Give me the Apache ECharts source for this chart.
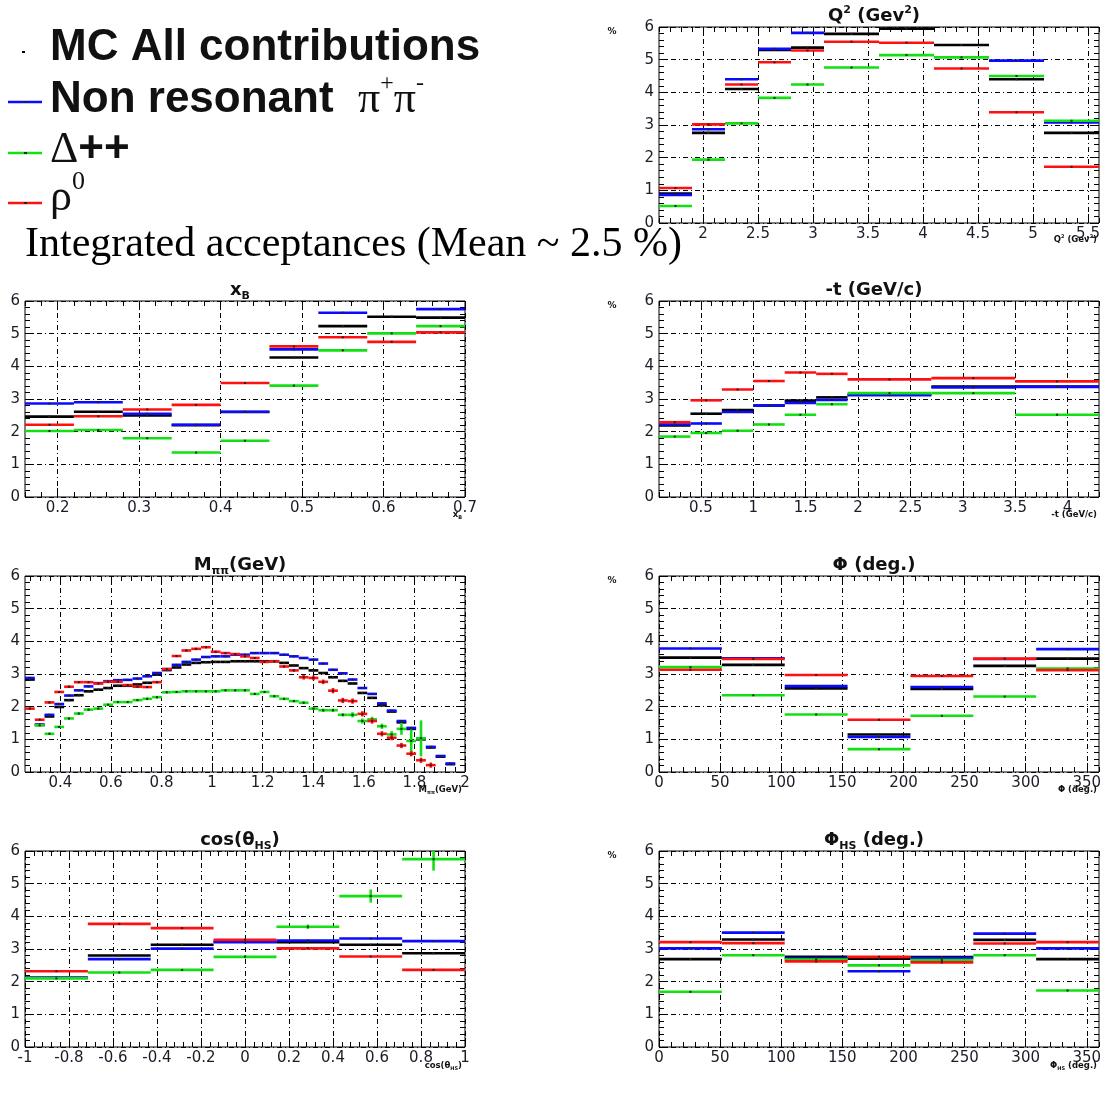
<!DOCTYPE html>
<html>
<head>
<meta charset="utf-8">
<script src="https://cdn.jsdelivr.net/npm/echarts@6/dist/echarts.min.js"></script>
<style>
  html, body { margin: 0; padding: 0; background: #fff; }
  #chart { width: 1113px; height: 1105px; }
</style>
</head>
<body>
<div id="chart"></div>
<script>
// ---------------- acceptance histograms (in %) ----------------

// Q^2 (GeV^2)
const q2Edges   = [1.6, 1.9, 2.2, 2.5, 2.8, 3.1, 3.6, 4.1, 4.6, 5.1, 5.6];
const q2Ticks   = [2, 2.5, 3, 3.5, 4, 4.5, 5, 5.5];
const q2All     = [0.90, 2.76, 4.10, 5.30, 5.37, 5.79, 5.95, 5.45, 4.40, 2.76];
const q2NonRes  = [0.86, 2.87, 4.40, 5.33, 5.82, 6.30, 6.40, 6.20, 4.97, 3.08];
const q2Delta   = [0.52, 1.94, 3.05, 3.83, 4.24, 4.76, 5.14, 5.07, 4.50, 3.13];
const q2Rho     = [1.07, 3.02, 4.24, 4.92, 5.28, 5.55, 5.52, 4.73, 3.39, 1.72];

// x_B
const xbEdges   = [0.16, 0.22, 0.28, 0.34, 0.40, 0.46, 0.52, 0.58, 0.64, 0.70];
const xbTicks   = [0.2, 0.3, 0.4, 0.5, 0.6, 0.7];
const xbAll     = [2.46, 2.61, 2.50, 2.20, 2.60, 4.27, 5.23, 5.52, 5.49];
const xbNonRes  = [2.86, 2.90, 2.55, 2.21, 2.61, 4.52, 5.64, 6.20, 5.75];
const xbDelta   = [2.02, 2.05, 1.80, 1.36, 1.72, 3.41, 4.49, 5.01, 5.23];
const xbRho     = [2.21, 2.47, 2.68, 2.82, 3.49, 4.61, 4.89, 4.75, 5.04];

// -t (GeV/c)
const tEdges    = [0.1, 0.4, 0.7, 1.0, 1.3, 1.6, 1.9, 2.7, 3.5, 4.3];
const tTicks    = [0.5, 1, 1.5, 2, 2.5, 3, 3.5, 4];
const tAll      = [2.19, 2.55, 2.66, 2.80, 2.95, 3.05, 3.13, 3.38, 3.38];
const tNonRes   = [2.22, 2.25, 2.60, 2.80, 2.88, 2.97, 3.12, 3.35, 3.37];
const tDelta    = [1.85, 1.96, 2.03, 2.22, 2.52, 2.84, 3.18, 3.18, 2.52];
const tRho      = [2.29, 2.96, 3.29, 3.55, 3.81, 3.77, 3.60, 3.64, 3.54];

// M_pipi (GeV): 45 equal bins between 0.26 and 2.0
const mLo = 0.26, mHi = 2.0, mBins = 45;
const mTicks    = [0.4, 0.6, 0.8, 1, 1.2, 1.4, 1.6, 1.8, 2];
const mAll      = [2.83, 1.44, 1.70, 1.99, 2.20, 2.35, 2.47, 2.52, 2.57, 2.64, 2.64, 2.68, 2.73, 2.98, 3.12,
                   3.20, 3.29, 3.34, 3.36, 3.37, 3.37, 3.39, 3.39, 3.39, 3.39, 3.39, 3.34, 3.26, 3.18, 3.11,
                   3.03, 2.90, 2.79, 2.71, 2.42, 2.27, 2.04, 1.85, 1.52, 1.32, 1.00, 0.75, 0.47, 0.24, null];
const mNonRes   = [2.88, 1.45, 1.75, 2.08, 2.34, 2.50, 2.62, 2.72, 2.78, 2.81, 2.82, 2.86, 2.93, 3.03, 3.15,
                   3.28, 3.37, 3.44, 3.52, 3.54, 3.54, 3.59, 3.59, 3.64, 3.64, 3.64, 3.59, 3.54, 3.49, 3.44,
                   3.32, 3.13, 3.02, 2.83, 2.57, 2.39, 2.10, 1.88, 1.56, 1.35, 1.03, 0.77, 0.49, 0.26, null];
const mDelta    = [null, 1.43, 1.17, 1.38, 1.64, 1.79, 1.91, 1.94, 2.06, 2.14, 2.14, 2.20, 2.24, 2.29, 2.44,
                   2.45, 2.47, 2.47, 2.47, 2.47, 2.50, 2.50, 2.50, 2.39, 2.45, 2.32, 2.24, 2.17, 2.12, 1.94,
                   1.89, 1.89, 1.75, 1.75, 1.56, 1.61, 1.40, 1.15, 1.32, 0.95, 1.03, null, null, null, null];
const mDeltaErr = [0, 0.03, 0.03, 0.03, 0.03, 0.03, 0.03, 0.03, 0.03, 0.03, 0.03, 0.03, 0.03, 0.03, 0.03,
                   0.03, 0.03, 0.03, 0.03, 0.03, 0.03, 0.03, 0.03, 0.03, 0.03, 0.03, 0.03, 0.03, 0.04, 0.04,
                   0.05, 0.05, 0.05, 0.08, 0.08, 0.08, 0.08, 0.10, 0.18, 0.35, 0.55, 0, 0, 0, 0];
const mRho      = [1.94, 1.60, 2.13, 2.45, 2.61, 2.75, 2.75, 2.71, 2.76, 2.76, 2.66, 2.61, 2.60, 2.75, 3.15,
                   3.55, 3.72, 3.77, 3.82, 3.68, 3.64, 3.61, 3.54, 3.49, 3.37, 3.39, 3.23, 3.11, 2.90, 2.88,
                   2.76, 2.49, 2.19, 2.17, 1.78, 1.56, 1.17, 1.05, 0.81, 0.56, 0.36, 0.21, null, null, null];
const mRhoErr   = [0.03, 0.03, 0.03, 0.03, 0.03, 0.03, 0.03, 0.03, 0.03, 0.03, 0.03, 0.03, 0.03, 0.03, 0.03,
                   0.03, 0.03, 0.03, 0.03, 0.03, 0.03, 0.03, 0.03, 0.03, 0.03, 0.03, 0.03, 0.03, 0.07, 0.07,
                   0.07, 0.08, 0.08, 0.08, 0.08, 0.08, 0.08, 0.08, 0.08, 0.08, 0.08, 0.08, 0, 0, 0];

// Phi (deg.): 7 equal bins over 0..360
const phiEdges  = [0, 51.43, 102.86, 154.29, 205.71, 257.14, 308.57, 360];
const phiTicks  = [0, 50, 100, 150, 200, 250, 300, 350];
const phiAll    = [3.50, 3.28, 2.56, 1.15, 2.54, 3.25, 3.47];
const phiNonRes = [3.78, 3.48, 2.63, 1.07, 2.60, 3.46, 3.76];
const phiDelta  = [3.21, 2.35, 1.76, 0.70, 1.72, 2.31, 3.17];
const phiRho    = [3.13, 3.46, 2.97, 1.60, 2.94, 3.47, 3.12];

// cos(theta_HS): 7 equal bins over -1..1
const cosEdges  = [-1, -0.7143, -0.4286, -0.1429, 0.1429, 0.4286, 0.7143, 1];
const cosTicks  = [-1, -0.8, -0.6, -0.4, -0.2, 0, 0.2, 0.4, 0.6, 0.8, 1];
const cosAll    = [2.12, 2.80, 3.13, 3.22, 3.21, 3.13, 2.87];
const cosNonRes = [2.12, 2.69, 3.01, 3.21, 3.26, 3.32, 3.24];
const cosDelta  = [2.10, 2.28, 2.36, 2.76, 3.68, 4.62, 5.75];
const cosDeltaErr = [0.02, 0.02, 0.02, 0.04, 0.07, 0.20, 0.35];
const cosRho    = [2.32, 3.77, 3.64, 3.28, 3.02, 2.77, 2.36];

// Phi_HS (deg.)
const phsEdges  = phiEdges;
const phsTicks  = phiTicks;
const phsAll    = [2.69, 3.29, 2.76, 2.70, 2.75, 3.28, 2.69];
const phsNonRes = [3.02, 3.50, 2.71, 2.32, 2.72, 3.47, 3.02];
const phsDelta  = [1.69, 2.81, 2.68, 2.50, 2.66, 2.81, 1.73];
const phsRho    = [3.21, 3.18, 2.62, 2.76, 2.59, 3.17, 3.21];

const yTicksMax = 6;

// ---------------- helpers ----------------
const SANS  = "'Liberation Sans', Arial, Helvetica, sans-serif";
const AXIS_FONT = "'DejaVu Sans', 'Liberation Sans', sans-serif";
const SERIF = "'Liberation Serif', 'Times New Roman', serif";
const COL = { all: '#000000', nonres: '#0a0aff', delta: '#12e012', rho: '#ff1010' };

function round6(v) { return Math.round(v * 1e6) / 1e6; }
function minorTicks(lo, hi, step) {
  const out = [];
  const start = Math.ceil(lo / step - 1e-9);
  for (let k = start; k * step <= hi + 1e-9; k++) out.push(round6(k * step));
  return out;
}
function uniformEdges(lo, hi, n) {
  const e = [];
  for (let i = 0; i <= n; i++) e.push(round6(lo + (hi - lo) * i / n));
  return e;
}
const mEdges = uniformEdges(mLo, mHi, mBins);

const W = 440, H = 196;
const panels = [
  { left: 659, top: 27,  xmin: 1.6,  xmax: 5.6, ticks: q2Ticks,  minor: 0.1,  edges: q2Edges,
    sets: [q2All, q2NonRes, q2Delta, q2Rho], errs: {} },
  { left: 25,  top: 301, xmin: 0.16, xmax: 0.7, ticks: xbTicks,  minor: 0.02, edges: xbEdges,
    sets: [xbAll, xbNonRes, xbDelta, xbRho], errs: {} },
  { left: 659, top: 301, xmin: 0.1,  xmax: 4.3, ticks: tTicks,   minor: 0.1,  edges: tEdges,
    sets: [tAll, tNonRes, tDelta, tRho], errs: {} },
  { left: 25,  top: 576, xmin: mLo,  xmax: mHi, ticks: mTicks,   minor: 0.04, edges: mEdges,
    sets: [mAll, mNonRes, mDelta, mRho], errs: { 2: mDeltaErr, 3: mRhoErr } },
  { left: 659, top: 576, xmin: 0,    xmax: 360, ticks: phiTicks, minor: 10,   edges: phiEdges,
    sets: [phiAll, phiNonRes, phiDelta, phiRho], errs: {} },
  { left: 25,  top: 851, xmin: -1,   xmax: 1,   ticks: cosTicks, minor: 0.04, edges: cosEdges,
    sets: [cosAll, cosNonRes, cosDelta, cosRho], errs: { 2: cosDeltaErr } },
  { left: 659, top: 851, xmin: 0,    xmax: 360, ticks: phsTicks, minor: 10,   edges: phsEdges,
    sets: [phsAll, phsNonRes, phsDelta, phsRho], errs: {} }
];
const setColors = [COL.all, COL.nonres, COL.delta, COL.rho];

const gridDash = [5, 3, 1, 3];
const labelStyle = { fontFamily: AXIS_FONT, fontSize: 15, color: '#1c1c28' };

const grids = [], xAxes = [], yAxes = [], series = [];

panels.forEach((p, gi) => {
  grids.push({ left: p.left, top: p.top, width: W, height: H, show: true,
               borderColor: '#000', borderWidth: 1, backgroundColor: 'transparent' });
  const minors = minorTicks(p.xmin, p.xmax, p.minor);
  const base = { type: 'value', gridIndex: gi, min: p.xmin, max: p.xmax,
                 axisLine: { show: false, onZero: false }, minorTick: { show: false } };
  // bottom: major ticks, labels and grid lines
  xAxes.push(Object.assign({}, base, {
    position: 'bottom',
    axisTick: { show: true, inside: true, length: 9, customValues: p.ticks, lineStyle: { color: '#000' } },
    axisLabel: Object.assign({ show: true, customValues: p.ticks, margin: 4,
                               formatter: v => String(round6(v)) }, labelStyle),
    splitLine: { show: true, lineStyle: { color: '#000', width: 1, type: gridDash } }
  }));
  // bottom: minor ticks
  xAxes.push(Object.assign({}, base, {
    position: 'bottom',
    axisTick: { show: true, inside: true, length: 5, customValues: minors, lineStyle: { color: '#000' } },
    axisLabel: { show: false }, splitLine: { show: false }
  }));
  // top: mirrored ticks
  xAxes.push(Object.assign({}, base, {
    position: 'top',
    axisTick: { show: true, inside: true, length: 9, customValues: p.ticks, lineStyle: { color: '#000' } },
    axisLabel: { show: false }, splitLine: { show: false }
  }));
  xAxes.push(Object.assign({}, base, {
    position: 'top',
    axisTick: { show: true, inside: true, length: 5, customValues: minors, lineStyle: { color: '#000' } },
    axisLabel: { show: false }, splitLine: { show: false }
  }));

  const ybase = { type: 'value', gridIndex: gi, min: 0, max: yTicksMax, interval: 1,
                  axisLine: { show: false, onZero: false },
                  axisTick: { show: true, inside: true, length: 9, lineStyle: { color: '#000' } },
                  minorTick: { show: true, splitNumber: 5, length: 5, lineStyle: { color: '#000' } } };
  yAxes.push(Object.assign({}, ybase, {
    position: 'left',
    axisLabel: Object.assign({ show: true, margin: 5 }, labelStyle),
    splitLine: { show: true, lineStyle: { color: '#000', width: 1, type: gridDash } }
  }));
  yAxes.push(Object.assign({}, ybase, {
    position: 'right', axisLabel: { show: false }, splitLine: { show: false }
  }));

  p.sets.forEach((vals, si) => {
    const errs = p.errs[si];
    const data = [];
    vals.forEach((v, i) => {
      if (v == null) return;
      data.push([p.edges[i], p.edges[i + 1], v, errs ? errs[i] : 0]);
    });
    const color = setColors[si];
    series.push({
      type: 'custom', xAxisIndex: gi * 4, yAxisIndex: gi * 2, clip: true, z: 3 + si,
      silent: true, animation: false,
      encode: { x: [0, 1], y: 2 },
      data,
      renderItem(params, api) {
        const lo = api.value(0), hi = api.value(1), v = api.value(2), e = api.value(3);
        const a = api.coord([lo, v]), b = api.coord([hi, v]);
        const cx = (a[0] + b[0]) / 2;
        const kids = [{
          type: 'line', shape: { x1: a[0], y1: a[1], x2: b[0], y2: b[1] },
          style: { stroke: color, lineWidth: 2.6 }
        }];
        if (e > 0) {
          const t = api.coord([(lo + hi) / 2, v + e]), d = api.coord([(lo + hi) / 2, v - e]);
          kids.push({ type: 'line', shape: { x1: cx, y1: t[1], x2: cx, y2: d[1] },
                      style: { stroke: color, lineWidth: 2.6 } });
        }
        kids.push({ type: 'rect', shape: { x: cx - 1, y: a[1] - 1, width: 2, height: 2 },
                    style: { fill: '#222' } });
        return { type: 'group', children: kids };
      }
    });
  });
});

// ---------------- texts ----------------
function rtext(x, y, text, size, opt) {
  opt = opt || {};
  const weight = opt.weight || 'bold';
  const fam = opt.family || SANS;
  const fill = opt.color || '#111';
  const align = opt.align || 'center';
  const lh = Math.round(size * 1.3);
  const sm = Math.round(size * (opt.smallRatio || 0.62));
  const gsize = opt.gsize || size;
  return {
    type: 'text', x, y, z: 50, silent: true,
    style: {
      text, fill, fontSize: size, fontFamily: fam, fontWeight: weight,
      font: weight + ' ' + size + 'px ' + fam,
      align, textAlign: align, verticalAlign: 'middle', textVerticalAlign: 'middle',
      rich: {
        n:   { fontSize: size, fontFamily: fam, fontWeight: weight, lineHeight: lh, verticalAlign: 'middle', fill },
        g:   { fontSize: gsize, fontFamily: SERIF, fontWeight: opt.gweight || weight, lineHeight: lh, verticalAlign: 'middle', fill },
        sup: { fontSize: sm, fontFamily: fam, fontWeight: weight, lineHeight: sm + 2, verticalAlign: 'top', fill },
        gsup:{ fontSize: sm, fontFamily: SERIF, fontWeight: opt.gweight || weight, lineHeight: sm + 2, verticalAlign: 'top', fill },
        sub: { fontSize: sm, fontFamily: fam, fontWeight: weight, lineHeight: sm + 2, verticalAlign: 'bottom', fill }
      }
    }
  };
}

const graphics = [];
const tOpt = { family: AXIS_FONT };
// panel titles
graphics.push(rtext(874, 16,  '{n|Q}{sup|2}{n| (Gev}{sup|2}{n|)}', 18, tOpt));
graphics.push(rtext(240, 290, '{n|x}{sub|B}', 18, tOpt));
graphics.push(rtext(874, 290, '{n|-t (GeV/c)}', 18, tOpt));
graphics.push(rtext(240, 565, '{n|M}{sub|ππ}{n|(GeV)}', 18, tOpt));
graphics.push(rtext(874, 565, '{n|Φ (deg.)}', 18, tOpt));
graphics.push(rtext(240, 840, '{n|cos(θ}{sub|HS}{n|)}', 18, tOpt));
graphics.push(rtext(874, 840, '{n|Φ}{sub|HS}{n| (deg.)}', 18, tOpt));

// axis titles, bottom right of each frame
const aOpt = { align: 'right', family: AXIS_FONT };
graphics.push(rtext(1097, 240,  '{n|Q}{sup|2}{n| (Gev}{sup|2}{n|)}', 8.5, aOpt));
graphics.push(rtext(462, 515,   '{n|x}{sub|B}', 8.5, aOpt));
graphics.push(rtext(1097, 515,  '{n|-t (GeV/c)}', 8.5, aOpt));
graphics.push(rtext(462, 790,   '{n|M}{sub|ππ}{n|(GeV)}', 8.5, aOpt));
graphics.push(rtext(1097, 790,  '{n|Φ (deg.)}', 8.5, aOpt));
graphics.push(rtext(462, 1066,  '{n|cos(θ}{sub|HS}{n|)}', 8.5, aOpt));
graphics.push(rtext(1097, 1066, '{n|Φ}{sub|HS}{n| (deg.)}', 8.5, aOpt));

// "%" y-axis titles on the right-hand column
[27, 301, 576, 851].forEach(t => graphics.push(rtext(612, t + 5, '{n|%}', 9, tOpt)));

// legend
graphics.push({ type: 'rect', shape: { x: 22, y: 51, width: 3, height: 2 }, style: { fill: '#000' }, silent: true });
graphics.push({ type: 'line', shape: { x1: 8, y1: 102, x2: 42, y2: 102 }, style: { stroke: COL.nonres, lineWidth: 2.5 }, silent: true });
graphics.push({ type: 'line', shape: { x1: 8, y1: 153, x2: 42, y2: 153 }, style: { stroke: COL.delta, lineWidth: 2.5 }, silent: true });
graphics.push({ type: 'line', shape: { x1: 8, y1: 203, x2: 42, y2: 203 }, style: { stroke: COL.rho, lineWidth: 2.5 }, silent: true });
graphics.push({ type: 'rect', shape: { x: 24, y: 101, width: 3, height: 2 }, style: { fill: '#222' }, silent: true });
graphics.push({ type: 'rect', shape: { x: 24, y: 152, width: 3, height: 2 }, style: { fill: '#222' }, silent: true });
graphics.push({ type: 'rect', shape: { x: 24, y: 202, width: 3, height: 2 }, style: { fill: '#222' }, silent: true });

graphics.push(rtext(50, 48,  '{n|MC All contributions}', 44, { align: 'left' }));
graphics.push(rtext(50, 100, '{n|Non resonant  }{g|π}{gsup|+}{g|π}{gsup|-}', 44, { align: 'left', gweight: 'normal', smallRatio: 0.55 }));
graphics.push(rtext(50, 150, '{g|Δ}{n|++}', 44, { align: 'left', gweight: 'normal' }));
graphics.push(rtext(50, 198, '{g|ρ}{gsup|0}', 44, { align: 'left', gweight: 'normal', smallRatio: 0.6 }));
graphics.push(rtext(25, 245, '{n|Integrated acceptances (Mean ~ 2.5 %)}', 42, { align: 'left', weight: 'normal', family: SERIF, color: '#000' }));

const chart = echarts.init(document.getElementById('chart'), null, { renderer: 'canvas' });
chart.setOption({
  animation: false,
  backgroundColor: '#ffffff',
  grid: grids,
  xAxis: xAxes,
  yAxis: yAxes,
  series,
  graphic: graphics
});
</script>
</body>
</html>
